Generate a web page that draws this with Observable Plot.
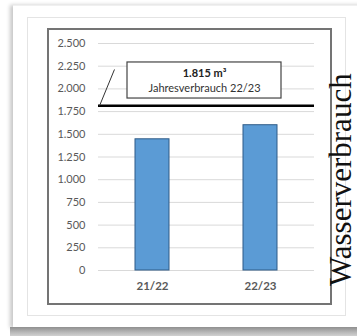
<!DOCTYPE html>
<html>
<head>
<meta charset="utf-8">
<script src="https://cdn.jsdelivr.net/npm/d3@7"></script>
<script src="https://cdn.jsdelivr.net/npm/@observablehq/plot@0.6"></script>
<style>
  html, body { margin: 0; padding: 0; background: #ffffff; }
  #wrap { position: relative; width: 357px; height: 336px; overflow: hidden; background: #ffffff; }
  .card { position: absolute; left: 13px; top: 5px; width: 350px; height: 322px; background: #ffffff;
          border-top: 1px solid #f0f0f0; box-shadow: -3px 0 4px rgba(0,0,0,0.22); }
  .shadow { position: absolute; left: 10px; top: 327px; width: 350px; height: 9px;
            background: linear-gradient(to bottom, #8f8f8f, #b9b9b9 60%, #d0d0d0); }
  .inner { position: absolute; left: 27px; top: 17px; width: 317px; height: 297px; border: 1px solid #e4e4e4; }
  .frame { position: absolute; left: 47px; top: 28px; width: 281px; height: 273px; border: 2px solid #747474; }
  #chart { position: absolute; left: 0; top: 0; }
</style>
</head>
<body>
<div id="wrap">
  <div class="card"></div>
  <div class="shadow"></div>
  <div class="inner"></div>
  <div class="frame"></div>
  <div id="chart"></div>
</div>
<script>
const seasons = ["21/22", "22/23"];
const consumption = [1445, 1600];
const yTicks = [0, 250, 500, 750, 1000, 1250, 1500, 1750, 2000, 2250, 2500];
const yTickLabels = ["0", "250", "500", "750", "1.000", "1.250", "1.500", "1.750", "2.000", "2.250", "2.500"];
const annualValue = 1815;
const annualLines = ["1.815 m³", "Jahresverbrauch 22/23"];
const annualLineValues = [2170, 2004];
const boxRange = [1894, 2291];
const leaderTop = 2214;
const sideTitle = "Wasserverbrauch";
const sideTitlePos = {x: 2.25, y: 1000};

const bars = seasons.map((s, i) => ({season: s, i, value: consumption[i]}));
const half = 17 / 108;

const chart = Plot.plot({
  width: 357,
  height: 336,
  marginLeft: 98,
  marginRight: 43,
  marginTop: 43,
  marginBottom: 66,
  style: {background: "transparent", fontFamily: "Lato, 'Open Sans', sans-serif", color: "#595959", overflow: "visible"},
  x: {domain: [0, 2], axis: null},
  y: {domain: [0, 2500], axis: null},
  marks: [
    Plot.ruleY(yTicks, {stroke: "#d9d9d9", strokeWidth: 1}),
    Plot.text(yTicks, {y: d => d, text: (d, i) => yTickLabels[i], frameAnchor: "left", textAnchor: "end", dx: -13, fontSize: 11, fill: "#595959"}),
    Plot.rectY(bars, {x1: d => d.i + 0.5 - half, x2: d => d.i + 0.5 + half, y1: 0, y2: "value", fill: "#5b9bd5", stroke: "#2f5b87", strokeWidth: 1}),
    Plot.text(bars, {x: d => d.i + 0.5, text: "season", frameAnchor: "bottom", dy: 19, fontSize: 11.5, fontWeight: "bold", fill: "#595959"}),
    Plot.ruleY([annualValue], {stroke: "#000", strokeWidth: 2.5}),
    Plot.link([annualValue], {x1: 0.01, y1: d => d, x2: 0.148, y2: leaderTop, stroke: "#333", strokeWidth: 1}),
    Plot.rect([boxRange], {x1: 29 / 108, x2: 2 - 33 / 108, y1: d => d[0], y2: d => d[1], fill: "white", stroke: "#444", strokeWidth: 1.2}),
    Plot.text([annualLines[0]], {x: 1 - 2 / 108, y: annualLineValues[0], text: d => d, fontSize: 11, fontWeight: "bold", fill: "#222"}),
    Plot.text([annualLines[1]], {x: 1 - 2 / 108, y: annualLineValues[1], text: d => d, fontSize: 11, fill: "#333"}),
    Plot.text([sideTitle], {x: sideTitlePos.x, y: sideTitlePos.y, text: d => d, rotate: -90, fontSize: 31, fontFamily: "'Liberation Serif', 'DejaVu Serif', serif", fill: "#111"})
  ]
});
document.getElementById("chart").appendChild(chart);
</script>
</body>
</html>
